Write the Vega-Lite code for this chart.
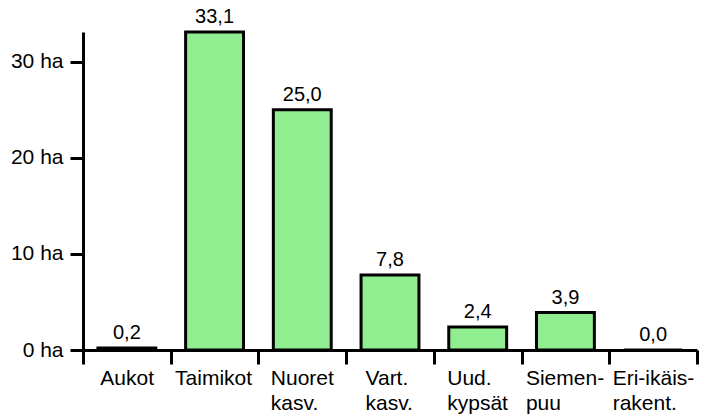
{
  "$schema": "https://vega.github.io/schema/vega-lite/v6.json",
  "width": 614,
  "height": 318,
  "autosize": {"type": "none"},
  "padding": {"left": 83, "top": 32, "right": 11, "bottom": 66},
  "background": "white",
  "config": {
    "view": {"stroke": null},
    "font": "Liberation Sans",
    "locale": {"number": {"decimal": ",", "thousands": " ", "grouping": [3], "currency": ["", " €"]}}
  },
  "data": {
    "values": [
      {"category": "Aukot", "value": 0.2},
      {"category": "Taimikot", "value": 33.1},
      {"category": "Nuoret kasv.", "value": 25.0},
      {"category": "Vart. kasv.", "value": 7.8},
      {"category": "Uud. kypsät", "value": 2.4},
      {"category": "Siemen- puu", "value": 3.9},
      {"category": "Eri-ikäis- rakent.", "value": 0.0}
    ]
  },
  "encoding": {
    "x": {
      "field": "category",
      "type": "nominal",
      "sort": null,
      "scale": {"paddingInner": 0, "paddingOuter": 0},
      "axis": {
        "title": null,
        "labelAngle": 0,
        "labelExpr": "split(datum.label, ' ')",
        "labelFontSize": 21,
        "labelColor": "black",
        "labelFont": "Liberation Sans",
        "labelLineHeight": 25,
        "labelAlign": "left",
        "labelBaseline": "top",
        "labelPadding": 3,
        "labelOffset": {
          "condition": [
            {"test": "datum.value == 'Aukot'", "value": -27},
            {"test": "datum.value == 'Taimikot'", "value": -40},
            {"test": "datum.value == 'Nuoret kasv.'", "value": -32},
            {"test": "datum.value == 'Vart. kasv.'", "value": -25},
            {"test": "datum.value == 'Uud. kypsät'", "value": -31},
            {"test": "datum.value == 'Siemen- puu'", "value": -40}
          ],
          "value": -41
        },
        "tickBand": "extent",
        "tickSize": 14,
        "tickWidth": 3,
        "tickColor": "black",
        "domainColor": "black",
        "domainWidth": 3,
        "labelOverlap": false,
        "labelLimit": 0
      }
    }
  },
  "layer": [
    {
      "mark": {"type": "bar", "fill": "#90EE90", "stroke": "black", "strokeWidth": 3, "width": {"band": 0.66}},
      "encoding": {
        "y": {
          "field": "value",
          "type": "quantitative",
          "scale": {"domain": [0, 33.1], "nice": false, "zero": true},
          "axis": {
            "title": null,
            "values": [0, 10, 20, 30],
            "labelExpr": "datum.value + ' ha'",
            "labelFontSize": 21,
            "labelColor": "black",
            "labelFont": "Liberation Sans",
            "labelPadding": 7,
            "tickSize": 13,
            "tickWidth": 3,
            "tickColor": "black",
            "domainColor": "black",
            "domainWidth": 3,
            "grid": false
          }
        }
      }
    },
    {
      "mark": {"type": "text", "baseline": "bottom", "dy": -5, "fontSize": 20, "font": "Liberation Sans", "color": "black"},
      "encoding": {
        "y": {"field": "value", "type": "quantitative"},
        "text": {"field": "value", "type": "quantitative", "format": ".1f"}
      }
    }
  ]
}
